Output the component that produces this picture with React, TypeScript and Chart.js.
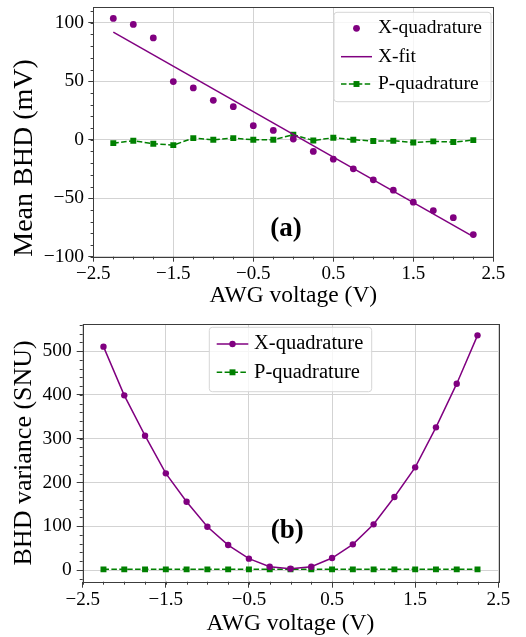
import React, { useEffect, useRef } from "react";
import { Chart, registerables } from "chart.js";

Chart.register(...registerables);

// ---------------- data ----------------
const voltages = [-2.25, -2.0, -1.75, -1.5, -1.25, -1.0, -0.75, -0.5, -0.25, 0, 0.25, 0.5, 0.75, 1.0, 1.25, 1.5, 1.75, 2.0, 2.25];
const meanX = [103.7, 98.6, 87.1, 49.7, 44.3, 33.7, 28.3, 12.0, 8.0, 0.6, -10.0, -16.6, -24.9, -34.3, -43.1, -53.4, -60.6, -66.6, -81.1];
const fitVoltages = [-2.25, 2.25];
const fitX = [92.0, -82.9];
const meanP = [-2.9, -0.9, -3.4, -4.6, 1.4, 0.0, 1.4, 0.0, 0.0, 4.3, -0.6, 1.7, 0.0, -1.1, -0.9, -2.3, -1.4, -2.0, -0.3];
const varX = [510, 398.8, 306.7, 220.7, 156, 98.9, 57, 25.9, 7.6, 3, 7.6, 27.4, 58.6, 104.3, 166.7, 234.4, 325.7, 425.4, 535.8];
const varP = [1.5, 1.5, 1.5, 1.5, 1.5, 1.5, 1.5, 1.5, 1.5, 1.5, 1.5, 1.5, 1.5, 1.5, 1.5, 1.5, 1.5, 1.5, 1.5];

const X_MIN = -2.5;
const X_MAX = 2.5;
const X_STEP = 1;
const X_MINOR = 0.25;
const TOP_Y_MIN = -100;
const TOP_Y_MAX = 113.5;
const TOP_Y_STEP = 50;
const TOP_Y_MINOR = 10;
const BOT_Y_MIN = -26.7;
const BOT_Y_MAX = 561.7;
const BOT_Y_STEP = 100;
const BOT_Y_MINOR = 20;

const X_TITLE = "AWG voltage (V)";
const TOP_Y_TITLE = "Mean BHD (mV)";
const BOT_Y_TITLE = "BHD variance (SNU)";
const TOP_TAG = { x: -0.09, y: -76, text: "(a)" };
const BOT_TAG = { x: -0.04, y: 89, text: "(b)" };

// ---------------- style ----------------
const FONT = "'Liberation Serif', 'Times New Roman', serif";
const PURPLE = "#800080";
const GREEN = "#008000";
const GRID = "#d3d3d3";
const AXIS = "#3c3c3c";
const TEXT = "#000000";

function fmt(v: number): string {
  const r = Math.round(v * 100) / 100;
  if (r === 0) return "0";
  return (r < 0 ? "\u2212" : "") + String(Math.abs(r));
}

function pts(xs: number[], ys: number[]) {
  return xs.map((x, i) => ({ x, y: ys[i] }));
}

function drawMarker(ctx: CanvasRenderingContext2D, style: string, x: number, y: number, r: number, color: string) {
  ctx.save();
  ctx.fillStyle = color;
  ctx.strokeStyle = color;
  ctx.setLineDash([]);
  ctx.beginPath();
  if (style === "rect") {
    const s = Math.SQRT1_2 * r;
    ctx.rect(x - s, y - s, 2 * s, 2 * s);
  } else {
    ctx.arc(x, y, r, 0, Math.PI * 2);
  }
  ctx.fill();
  ctx.restore();
}

function roundRectPath(ctx: CanvasRenderingContext2D, x: number, y: number, w: number, h: number, r: number) {
  ctx.beginPath();
  ctx.moveTo(x + r, y);
  ctx.lineTo(x + w - r, y);
  ctx.quadraticCurveTo(x + w, y, x + w, y + r);
  ctx.lineTo(x + w, y + h - r);
  ctx.quadraticCurveTo(x + w, y + h, x + w - r, y + h);
  ctx.lineTo(x + r, y + h);
  ctx.quadraticCurveTo(x, y + h, x, y + h - r);
  ctx.lineTo(x, y + r);
  ctx.quadraticCurveTo(x, y, x + r, y);
  ctx.closePath();
}

interface LegendCfg {
  left: number; // relative to canvas
  top: number;
  width: number;
  height: number;
  rowY: number[];
  handleX1: number;
  handleX2: number;
  textX: number;
  fontSize: number;
}

function makeDecorPlugin(opts: {
  xMinor: number;
  yMinor: number;
  xMinorLen: number;
  yMinorLen: number;
  legend: LegendCfg;
  tag: { x: number; y: number; text: string };
  tagSize: number;
}) {
  return {
    id: "decor",
    afterDatasetsDraw(chart: any) {
      const ctx: CanvasRenderingContext2D = chart.ctx;
      const { left, right, top, bottom } = chart.chartArea;
      const xs = chart.scales.x;
      const ys = chart.scales.y;

      // minor ticks
      ctx.save();
      ctx.strokeStyle = AXIS;
      ctx.lineWidth = 1;
      const xa = Math.ceil(xs.min / opts.xMinor - 1e-9);
      const xb = Math.floor(xs.max / opts.xMinor + 1e-9);
      for (let k = xa; k <= xb; k++) {
        const p = Math.round(xs.getPixelForValue(k * opts.xMinor)) + 0.5;
        ctx.beginPath();
        ctx.moveTo(p, bottom);
        ctx.lineTo(p, bottom + opts.xMinorLen);
        ctx.stroke();
      }
      const ya = Math.ceil(ys.min / opts.yMinor - 1e-9);
      const yb = Math.floor(ys.max / opts.yMinor + 1e-9);
      for (let k = ya; k <= yb; k++) {
        const p = Math.round(ys.getPixelForValue(k * opts.yMinor)) + 0.5;
        ctx.beginPath();
        ctx.moveTo(left, p);
        ctx.lineTo(left - opts.yMinorLen, p);
        ctx.stroke();
      }
      // frame
      ctx.strokeRect(Math.round(left) + 0.5, Math.round(top) + 0.5, Math.round(right - left), Math.round(bottom - top));
      ctx.restore();

      // tag text
      ctx.save();
      ctx.fillStyle = TEXT;
      ctx.font = `bold ${opts.tagSize}px ${FONT}`;
      ctx.textAlign = "center";
      ctx.textBaseline = "middle";
      ctx.fillText(opts.tag.text, xs.getPixelForValue(opts.tag.x), ys.getPixelForValue(opts.tag.y));
      ctx.restore();

      // legend
      const lg = opts.legend;
      ctx.save();
      roundRectPath(ctx, lg.left, lg.top, lg.width, lg.height, 3);
      ctx.fillStyle = "rgba(255,255,255,0.8)";
      ctx.fill();
      ctx.strokeStyle = "#d6d6d6";
      ctx.lineWidth = 1;
      ctx.stroke();
      ctx.restore();

      chart.data.datasets.forEach((ds: any, i: number) => {
        const y = lg.rowY[i];
        if (ds.showLine !== false) {
          ctx.save();
          ctx.strokeStyle = ds.borderColor;
          ctx.lineWidth = ds.borderWidth;
          ctx.setLineDash(ds.borderDash || []);
          ctx.beginPath();
          ctx.moveTo(lg.handleX1, y);
          ctx.lineTo(lg.handleX2, y);
          ctx.stroke();
          ctx.restore();
        }
        if (ds.pointRadius > 0) {
          drawMarker(ctx, ds.pointStyle || "circle", (lg.handleX1 + lg.handleX2) / 2, y, ds.pointRadius, ds.pointBackgroundColor);
        }
        ctx.save();
        ctx.fillStyle = TEXT;
        ctx.font = `${lg.fontSize}px ${FONT}`;
        ctx.textAlign = "left";
        ctx.textBaseline = "middle";
        ctx.fillText(ds.label, lg.textX, y);
        ctx.restore();
      });
    },
  };
}

function scales(o: {
  yMin: number;
  yMax: number;
  yStep: number;
  yWidth: number;
  xHeight: number;
  tickLen: number;
  xTickPad: number;
  yTickPad: number;
  xTitlePad: number;
  yTitle: string;
  yTitleSize: number;
  yTitlePad: number;
  yTitleAlign: "start" | "center" | "end";
}) {
  const tickFont = { family: FONT, size: 19, lineHeight: 1 };
  return {
    x: {
      type: "linear",
      min: X_MIN,
      max: X_MAX,
      afterFit: (s: any) => {
        s.height = o.xHeight;
        s.paddingLeft = 0;
        s.paddingRight = 0;
      },
      ticks: {
        stepSize: X_STEP,
        callback: (v: any) => fmt(Number(v)),
        font: tickFont,
        color: TEXT,
        padding: o.xTickPad,
        maxRotation: 0,
        autoSkip: false,
      },
      grid: { color: GRID, lineWidth: 1, tickLength: o.tickLen, tickColor: AXIS, tickWidth: 1 },
      border: { display: false },
      title: {
        display: true,
        text: X_TITLE,
        color: TEXT,
        font: { family: FONT, size: 23.5, lineHeight: 1 },
        padding: { top: 0, bottom: o.xTitlePad },
      },
    },
    y: {
      type: "linear",
      min: o.yMin,
      max: o.yMax,
      afterFit: (s: any) => {
        s.width = o.yWidth;
        s.paddingTop = 0;
        s.paddingBottom = 0;
      },
      ticks: {
        stepSize: o.yStep,
        includeBounds: false,
        callback: (v: any) => fmt(Number(v)),
        font: { family: FONT, size: 19.5, lineHeight: 1 },
        color: TEXT,
        padding: o.yTickPad,
      },
      grid: { color: GRID, lineWidth: 1, tickLength: o.tickLen, tickColor: AXIS, tickWidth: 1 },
      border: { display: false },
      title: {
        display: true,
        text: o.yTitle,
        align: o.yTitleAlign,
        color: TEXT,
        font: { family: FONT, size: o.yTitleSize, lineHeight: 1 },
        padding: { top: o.yTitlePad, bottom: 0 },
      },
    },
  };
}

function topConfig(): any {
  return {
    type: "line",
    data: {
      datasets: [
        {
          label: "X-quadrature",
          data: pts(voltages, meanX),
          showLine: false,
          borderColor: PURPLE,
          backgroundColor: PURPLE,
          pointBackgroundColor: PURPLE,
          pointBorderColor: PURPLE,
          pointRadius: 3.4,
          pointStyle: "circle",
          borderWidth: 0,
        },
        {
          label: "X-fit",
          data: pts(fitVoltages, fitX),
          borderColor: PURPLE,
          borderWidth: 1.5,
          pointRadius: 0,
          pointBackgroundColor: PURPLE,
          tension: 0,
        },
        {
          label: "P-quadrature",
          data: pts(voltages, meanP),
          borderColor: GREEN,
          borderWidth: 1.5,
          borderDash: [5.5, 2.4],
          pointStyle: "rect",
          pointRadius: 4.2,
          pointBackgroundColor: GREEN,
          pointBorderColor: GREEN,
          pointBorderWidth: 0,
          tension: 0,
        },
      ],
    },
    options: {
      animation: false,
      responsive: false,
      maintainAspectRatio: false,
      layout: { padding: { left: 0, right: 32.7, top: 7, bottom: 0 } },
      plugins: { legend: { display: false }, tooltip: { enabled: false } },
      events: [],
      scales: scales({
        yMin: TOP_Y_MIN,
        yMax: TOP_Y_MAX,
        yStep: TOP_Y_STEP,
        yWidth: 93.3,
        xHeight: 310 - 256.7,
        tickLen: 5,
        xTickPad: 2.6,
        yTickPad: 4.3,
        xTitlePad: 2.25,
        yTitle: TOP_Y_TITLE,
        yTitleSize: 28,
        yTitlePad: 10.5,
        yTitleAlign: "start",
      }),
    },
    plugins: [
      makeDecorPlugin({
        xMinor: X_MINOR,
        yMinor: TOP_Y_MINOR,
        xMinorLen: 2.7,
        yMinorLen: 2.7,
        legend: {
          left: 334,
          top: 12.3,
          width: 157,
          height: 89.4,
          rowY: [28.3, 56.7, 84.0],
          handleX1: 341,
          handleX2: 372,
          textX: 378,
          fontSize: 19.5,
        },
        tag: TOP_TAG,
        tagSize: 27,
      }),
    ],
  };
}

function bottomConfig(): any {
  const off = 310;
  return {
    type: "line",
    data: {
      datasets: [
        {
          label: "X-quadrature",
          data: pts(voltages, varX),
          borderColor: PURPLE,
          borderWidth: 1.5,
          pointStyle: "circle",
          pointRadius: 3.2,
          pointBackgroundColor: PURPLE,
          pointBorderColor: PURPLE,
          pointBorderWidth: 0,
          tension: 0,
        },
        {
          label: "P-quadrature",
          data: pts(voltages, varP),
          borderColor: GREEN,
          borderWidth: 1.5,
          borderDash: [5.5, 2.4],
          pointStyle: "rect",
          pointRadius: 4.2,
          pointBackgroundColor: GREEN,
          pointBorderColor: GREEN,
          pointBorderWidth: 0,
          tension: 0,
        },
      ],
    },
    options: {
      animation: false,
      responsive: false,
      maintainAspectRatio: false,
      layout: { padding: { left: 0, right: 27.7, top: 324 - off, bottom: 0 } },
      plugins: { legend: { display: false }, tooltip: { enabled: false } },
      events: [],
      scales: scales({
        yMin: BOT_Y_MIN,
        yMax: BOT_Y_MAX,
        yStep: BOT_Y_STEP,
        yWidth: 82.7,
        xHeight: 637 - 581.7,
        tickLen: 6,
        xTickPad: 2.8,
        yTickPad: 5,
        xTitlePad: 1.25,
        yTitle: BOT_Y_TITLE,
        yTitleSize: 26,
        yTitlePad: 11.5,
        yTitleAlign: "center",
      }),
    },
    plugins: [
      makeDecorPlugin({
        xMinor: X_MINOR,
        yMinor: BOT_Y_MINOR,
        xMinorLen: 3,
        yMinorLen: 3,
        legend: {
          left: 209.3,
          top: 327.3 - off,
          width: 162.4,
          height: 64.4,
          rowY: [344 - off, 372.3 - off],
          handleX1: 216.7,
          handleX2: 248.3,
          textX: 254,
          fontSize: 20.5,
        },
        tag: BOT_TAG,
        tagSize: 27,
      }),
    ],
  };
}

export default function App() {
  const topRef = useRef<HTMLCanvasElement>(null);
  const botRef = useRef<HTMLCanvasElement>(null);

  useEffect(() => {
    const a = new Chart(topRef.current as HTMLCanvasElement, topConfig());
    const b = new Chart(botRef.current as HTMLCanvasElement, bottomConfig());
    return () => {
      a.destroy();
      b.destroy();
    };
  }, []);

  return (
    <div style={{ position: "absolute", left: 0, top: 0, width: 526, height: 637, background: "#ffffff" }}>
      <canvas ref={topRef} width={526} height={310} style={{ position: "absolute", left: 0, top: 0, width: 526, height: 310 }} />
      <canvas ref={botRef} width={526} height={327} style={{ position: "absolute", left: 0, top: 310, width: 526, height: 327 }} />
    </div>
  );
}
